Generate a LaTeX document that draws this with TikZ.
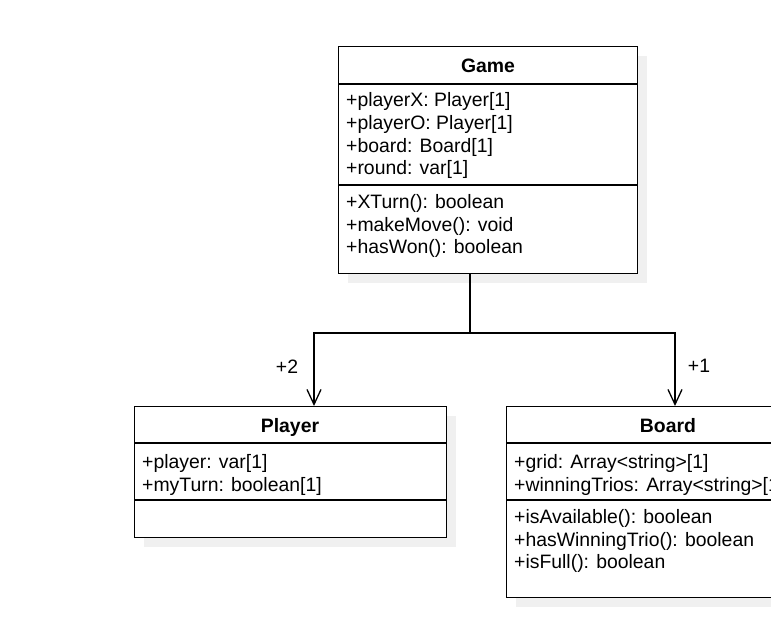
\documentclass[tikz,border=0pt]{standalone}
\usepackage{fontspec}
\setmainfont{Liberation Sans}
\usetikzlibrary{arrows.meta}
\definecolor{shadowgray}{HTML}{F0F0F0}
\begin{document}
\begin{tikzpicture}[x=1pt,y=-1pt,
  classbox/.style={draw=black,line width=1.3pt,fill=white,inner sep=0pt,anchor=north west},
  divider/.style={line width=1.3pt},
  member/.style={anchor=base west,inner sep=0pt,font=\fontsize{19.4}{22}\selectfont},
  title/.style={anchor=base,inner sep=0pt,font=\fontsize{19.4}{22}\selectfont\bfseries},
  mult/.style={anchor=base,inner sep=0pt,font=\fontsize{19.4}{22}\selectfont},
  link/.style={line width=1.3pt,-{Straight Barb[length=15pt,width=14pt,line width=1.3pt]}}]
\useasboundingbox (0,0) rectangle (771,627);
\clip (0,0) rectangle (771,627);
% shadows
\fill[shadowgray] (348,56) rectangle (647,283);
\fill[shadowgray] (144,416) rectangle (456,547);
\fill[shadowgray] (516,416) rectangle (840,607);
% Game
\node[classbox,minimum width=299pt,minimum height=227pt] (game) at (338,46) {};
\draw[divider] (338,84) -- (637,84);
\draw[divider] (338,185) -- (637,185);
\node[title] (gt) at (488,72) {Game};
\node[member] (g1) at (346,106) {+playerX: Player[1]};
\node[member] (g2) at (346,129) {+playerO: Player[1]};
\node[member] (g3) at (346,152) {+board: Board[1]};
\node[member] (g4) at (346,174) {+round: var[1]};
\node[member] (g5) at (346,208) {+XTurn(): boolean};
\node[member] (g6) at (346,231) {+makeMove(): void};
\node[member] (g7) at (346,253) {+hasWon(): boolean};
% Player
\node[classbox,minimum width=312pt,minimum height=131pt] (player) at (134,406) {};
\draw[divider] (134,443) -- (446,443);
\draw[divider] (134,500) -- (446,500);
\node[title] (pt) at (290,432) {Player};
\node[member] (p1) at (142,468) {+player: var[1]};
\node[member] (p2) at (142,491) {+myTurn: boolean[1]};
% Board
\node[classbox,minimum width=324pt,minimum height=191pt] (board) at (506,406) {};
\draw[divider] (506,443) -- (830,443);
\draw[divider] (506,500) -- (830,500);
\node[title] (bt) at (668,432) {Board};
\node[member] (b1) at (514,468) {+grid: Array<string>[1]};
\node[member] (b2) at (514,491) {+winningTrios: Array<string>[1]};
\node[member] (b3) at (514,523) {+isAvailable(): boolean};
\node[member] (b4) at (514,546) {+hasWinningTrio(): boolean};
\node[member] (b5) at (514,568) {+isFull(): boolean};
% connectors
\coordinate (src) at (470,273);
\coordinate (junc) at (470,333);
\coordinate (pin) at (314,406);
\coordinate (bin) at (675,406);
\draw[line width=1.3pt] (src) -- (junc);
\draw[link] (junc) -| (pin);
\draw[link] (junc) -| (bin);
\node[mult] (m2) at (287,373) {+2};
\node[mult] (m1) at (699,372) {+1};
\end{tikzpicture}
\end{document}
